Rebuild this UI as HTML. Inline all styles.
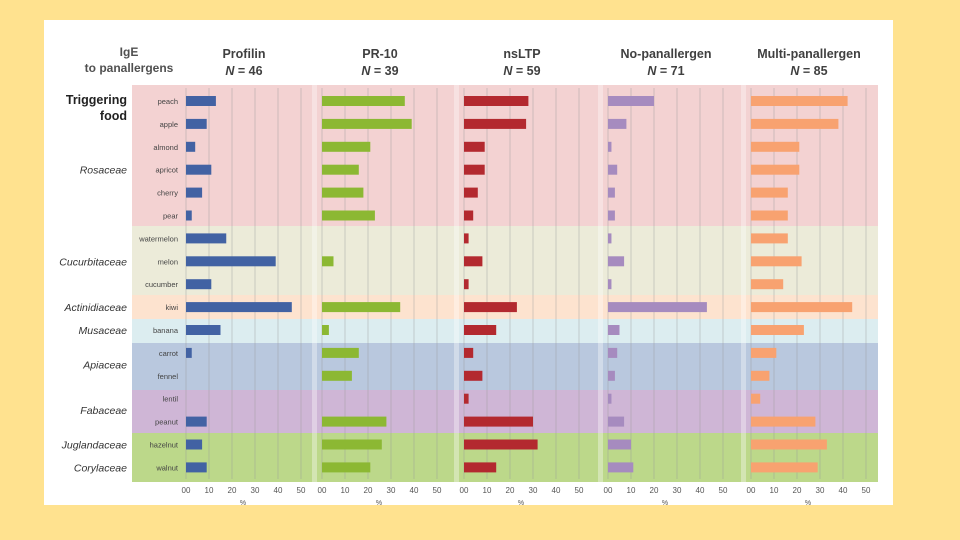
<!DOCTYPE html>
<html><head><meta charset="utf-8"><style>
body{margin:0;background:#ffe28f;width:960px;height:540px;overflow:hidden;font-family:"Liberation Sans",sans-serif}
#card{position:absolute;left:44px;top:20px;width:849px;height:485px;background:#fff}
</style></head><body>
<div id="card"></div>
<svg id="chart" width="960" height="540" style="position:absolute;left:0;top:0"></svg>
<script>
const foods=["peach","apple","almond","apricot","cherry","pear","watermelon","melon","cucumber","kiwi","banana","carrot","fennel","lentil","peanut","hazelnut","walnut"];
const panels=["Profilin","PR-10","nsLTP","No-panallergen","Multi-panallergen"];
const panelN=[46,39,59,71,85];
const profilin=[13,9,4,11,7,2.5,17.5,39,11,46,15,2.5,0,0,9,7,9];
const pr10=[36,39,21,16,18,23,0,5,0,34,3,16,13,0,28,26,21];
const nsltp=[28,27,9,9,6,4,2,8,2,23,14,4,8,2,30,32,14];
const nopan=[20,8,1.5,4,3,3,1.5,7,1.5,43,5,4,3,1.5,7,10,11];
const multi=[42,38,21,21,16,16,16,22,14,44,23,11,8,4,28,33,29];
const ticks=[0,10,20,30,40,50];
const tickLabels=["00","10","20","30","40","50"];
const families=["Rosaceae","Cucurbitaceae","Actinidiaceae","Musaceae","Apiaceae","Fabaceae","Juglandaceae","Corylaceae"];
const familyRows=[3,7,9,10,11.5,13.5,15,16];

const series=[profilin,pr10,nsltp,nopan,multi];
const colors=["#4262a3","#8cb833","#b3292f","#a68bbf","#f8a270"];
const x0s=[186,322,464,608,751];
const scale=2.3;
const rowY=i=>101+i*22.9;
const bands=[[85,226,"#f3d2d2"],[226,295,"#ecebd9"],[295,319,"#fde3cf"],[319,343,"#dcedf0"],[343,390,"#b9c8de"],[390,433,"#cfb6d6"],[433,482,"#bcd88a"]];
const svg=document.getElementById('chart');const NS="http://www.w3.org/2000/svg";
function el(t,a,txt){const e=document.createElementNS(NS,t);for(const k in a)e.setAttribute(k,a[k]);if(txt!=null)e.textContent=txt;svg.appendChild(e);return e;}
bands.forEach((b,i)=>{const r=el('rect',{x:132,y:b[0],width:746,height:b[1]-b[0],fill:b[2]});

});
panels.forEach((p,pi)=>{const x0=x0s[pi];
 ticks.forEach((t,ti)=>{const x=x0+t*scale;
  const g=el('line',{x1:x,x2:x,y1:88,y2:479,stroke:"#9a9a9a","stroke-width":0.7,opacity:0.6});
  
  
  const tl=el('text',{x:x,y:493,"font-size":8,fill:"#555","text-anchor":"middle"},tickLabels[ti]);
  
  });
 const pc=el('text',{x:x0+57,y:505,"font-size":7,fill:"#555","text-anchor":"middle"},"%");
 
 
 if(pi>0){const s=el('rect',{x:x0-10,y:85,width:5,height:397,fill:"#ffffff",opacity:0.35});
  
  }
 const cx=x0+58;
 const t1=el('text',{x:cx,y:58,"font-size":12.5,"font-weight":"bold",fill:"#404040","text-anchor":"middle"},p);
 
 
 const t2=el('text',{x:cx,y:75,"font-size":12.5,"font-weight":"bold",fill:"#404040","text-anchor":"middle"});
 
 
 t2.innerHTML='<tspan font-style="italic">N</tspan> = '+panelN[pi];
 series[pi].forEach((v,i)=>{if(v<=0)return;
  const b=el('rect',{x:x0,y:rowY(i)-5,width:v*scale,height:10,fill:colors[pi]});
  
  });
});
foods.forEach((f,i)=>{const t=el('text',{x:178,y:rowY(i)+3,"font-size":7.5,fill:"#444","text-anchor":"end"},f);
 
 });
families.forEach((f,i)=>{const t=el('text',{x:127,y:rowY(familyRows[i])+4,"font-size":10.5,"font-style":"italic",fill:"#333","text-anchor":"end"},f);
 
 });
[["IgE",56],["to panallergens",72]].forEach(a=>{const t=el('text',{x:129,y:a[1],"font-size":12,"font-weight":"bold",fill:"#505050","text-anchor":"middle"},a[0]);
 
 });
[["Triggering",104],["food",120]].forEach(a=>{const t=el('text',{x:127,y:a[1],"font-size":12.5,"font-weight":"bold",fill:"#222","text-anchor":"end"},a[0]);
 
 });
</script>
</body></html>
